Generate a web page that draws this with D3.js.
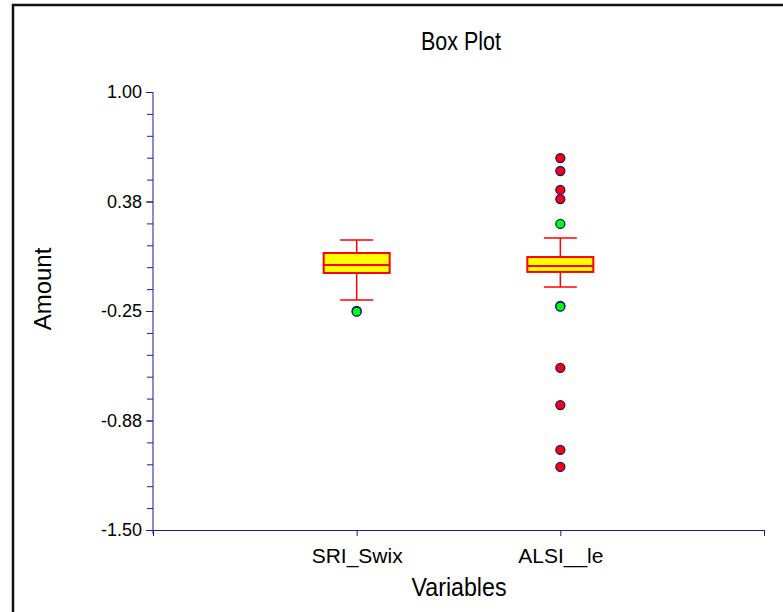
<!DOCTYPE html>
<html>
<head>
<meta charset="utf-8">
<script src="https://cdn.jsdelivr.net/npm/d3@7"></script>
<style>
  body { margin: 0; background: #fff; }
  text { font-family: "Liberation Sans", Arial, sans-serif; fill: #000; }
</style>
</head>
<body>
<div id="chart"></div>
<script>
// Box plot values
const variables = ["SRI_Swix", "ALSI__le"];
const varPos = [1, 2];
const lowerWhisker = [-0.187, -0.113];
const q1 = [-0.033, -0.027];
const median = [0.013, 0.007];
const q3 = [0.081, 0.058];
const upperWhisker = [0.155, 0.167];
// near outliers (green) and far outliers (red)
const nearOutliers = [[-0.25, -0.254], [0.247, -0.221, -0.225]];
const farOutliers = [[], [0.623, 0.549, 0.441, 0.389, -0.575, -0.787, -1.043, -1.140]];
const yTicks = [-1.5, -0.875, -0.25, 0.375, 1.0];

const svgWidth = 783;
const svgHeight = 612;
const axisColor = "#1c1c8a";

const svg = d3.select('#chart')
    .append('svg')
    .attr('width', svgWidth)
    .attr('height', svgHeight);

// outer frame (left and top edges only are visible)
svg.append('path')
    .attr('d', 'M13,612V5H783')
    .attr('fill', 'none')
    .attr('stroke', '#111')
    .attr('stroke-width', 2.5);

const yScale = d3.scaleLinear().domain([-1.5, 1]).range([530, 92]);
const xScale = d3.scaleLinear().domain([0, 3]).range([153, 764]);

// minor y ticks
svg.append('g')
    .attr('transform', 'translate(153,0)')
    .call(d3.axisLeft(yScale).tickValues(d3.range(-1.5, 1.001, 0.125)).tickSize(6).tickFormat(''))
    .call(g => g.select('.domain').remove())
    .call(g => g.selectAll('line').attr('stroke', axisColor));

// y axis
svg.append('g')
    .attr('transform', 'translate(153,0)')
    .call(d3.axisLeft(yScale).tickValues(yTicks).tickSize(7).tickSizeOuter(0).tickPadding(4)
        .tickFormat(d => d.toFixed(2)))
    .call(g => g.select('.domain').attr('stroke', axisColor).attr('d', 'M0,92V534'))
    .call(g => g.selectAll('line').attr('stroke', axisColor))
    .call(g => g.selectAll('text').attr('font-size', 18).attr('font-family', '"Liberation Sans", Arial, sans-serif').attr('fill', '#000'));

// x axis
svg.append('g')
    .attr('transform', 'translate(0,530)')
    .call(d3.axisBottom(xScale).tickValues([0, 1, 2, 3]).tickSize(6).tickSizeOuter(0).tickPadding(12)
        .tickFormat(d => (d === 1 || d === 2) ? variables[d - 1] : ''))
    .call(g => g.select('.domain').attr('stroke', axisColor))
    .call(g => g.selectAll('line').attr('stroke', axisColor))
    .call(g => g.selectAll('text').attr('font-size', 21).attr('font-family', '"Liberation Sans", Arial, sans-serif').attr('fill', '#000'));

// titles
svg.append('text')
    .attr('x', 461).attr('y', 50)
    .attr('text-anchor', 'middle')
    .attr('font-size', 25)
    .attr('textLength', 80)
    .attr('lengthAdjust', 'spacingAndGlyphs')
    .text('Box Plot');

svg.append('text')
    .attr('x', 459).attr('y', 596)
    .attr('text-anchor', 'middle')
    .attr('font-size', 25)
    .attr('textLength', 95)
    .attr('lengthAdjust', 'spacingAndGlyphs')
    .text('Variables');

svg.append('text')
    .attr('transform', 'translate(51,289) rotate(-90)')
    .attr('text-anchor', 'middle')
    .attr('font-size', 24)
    .text('Amount');

// boxes
const boxW = 66, capW = 33;
const boxes = svg.append('g');
variables.forEach((v, i) => {
    const cx = xScale(varPos[i]);
    const g = boxes.append('g');
    // whiskers
    g.append('line').attr('x1', cx).attr('x2', cx)
        .attr('y1', yScale(upperWhisker[i])).attr('y2', yScale(q3[i]))
        .attr('stroke', 'red').attr('stroke-width', 1.5);
    g.append('line').attr('x1', cx).attr('x2', cx)
        .attr('y1', yScale(q1[i])).attr('y2', yScale(lowerWhisker[i]))
        .attr('stroke', 'red').attr('stroke-width', 1.5);
    [upperWhisker[i], lowerWhisker[i]].forEach(w => {
        g.append('line').attr('x1', cx - capW / 2).attr('x2', cx + capW / 2)
            .attr('y1', yScale(w)).attr('y2', yScale(w))
            .attr('stroke', 'red').attr('stroke-width', 1.5);
    });
    g.append('rect')
        .attr('x', cx - boxW / 2).attr('width', boxW)
        .attr('y', yScale(q3[i])).attr('height', yScale(q1[i]) - yScale(q3[i]))
        .attr('fill', '#ffff00').attr('stroke', 'red').attr('stroke-width', 2);
    g.append('line').attr('x1', cx - boxW / 2).attr('x2', cx + boxW / 2)
        .attr('y1', yScale(median[i])).attr('y2', yScale(median[i]))
        .attr('stroke', 'red').attr('stroke-width', 2);

    g.selectAll('circle.near').data(nearOutliers[i]).enter().append('circle')
        .attr('class', 'near')
        .attr('cx', cx).attr('cy', d => yScale(d)).attr('r', 4.5)
        .attr('fill', '#00ff00').attr('stroke', '#14148c').attr('stroke-width', 1.3);
    g.selectAll('circle.far').data(farOutliers[i]).enter().append('circle')
        .attr('class', 'far')
        .attr('cx', cx).attr('cy', d => yScale(d)).attr('r', 4.5)
        .attr('fill', '#ff0000').attr('stroke', '#14148c').attr('stroke-width', 1.3);
});
</script>
</body>
</html>
